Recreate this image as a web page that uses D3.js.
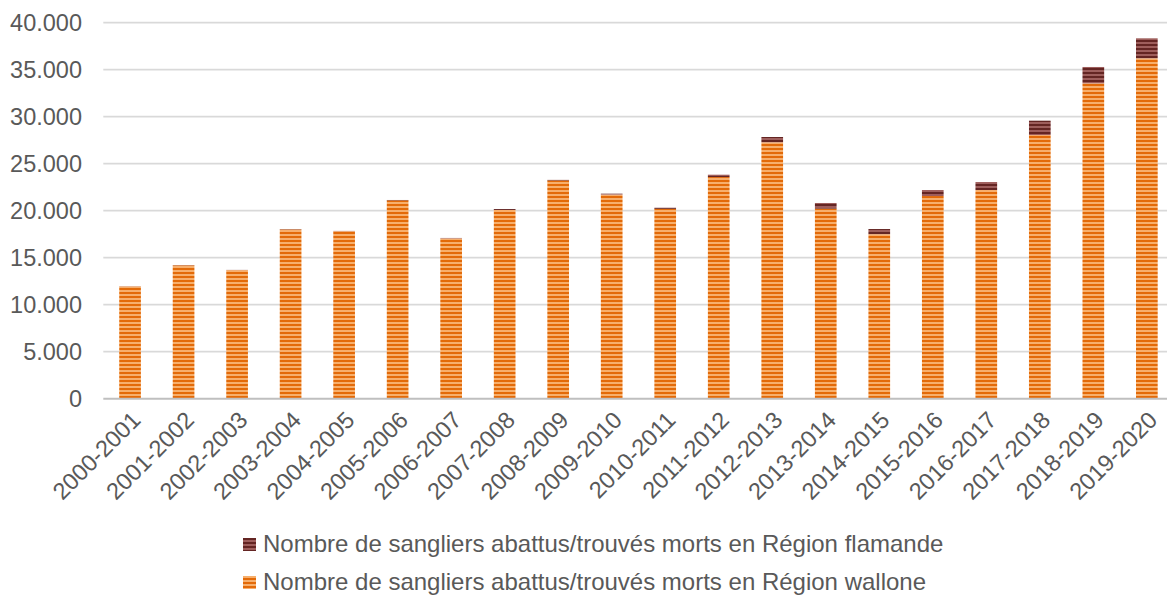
<!DOCTYPE html>
<html>
<head>
<meta charset="utf-8">
<script src="https://cdn.jsdelivr.net/npm/d3@7"></script>
<style>
  html, body { margin: 0; padding: 0; background: #fff; }
  svg { display: block; font-family: "Liberation Sans", Arial, sans-serif; }
</style>
</head>
<body>
<script>
// Sangliers abattus/trouvés morts par saison - stacked columns

const seasons = [
  "2000-2001", "2001-2002", "2002-2003", "2003-2004", "2004-2005",
  "2005-2006", "2006-2007", "2007-2008", "2008-2009", "2009-2010",
  "2010-2011", "2011-2012", "2012-2013", "2013-2014", "2014-2015",
  "2015-2016", "2016-2017", "2017-2018", "2018-2019", "2019-2020"
];
const wallone = [
  11950, 14180, 13680, 18000, 17820, 21100, 17050, 20080, 23220, 21710,
  20200, 23580, 27280, 20220, 17500, 21560, 22200, 28050, 33550, 36210
];
const flamande = [
  20, 20, 20, 30, 30, 40, 50, 100, 60, 100,
  120, 250, 560, 600, 550, 640, 850, 1525, 1740, 2130
];
const yTicks = [0, 5000, 10000, 15000, 20000, 25000, 30000, 35000, 40000];
const seriesNames = [
  "Nombre de sangliers abattus/trouvés morts en Région flamande",
  "Nombre de sangliers abattus/trouvés morts en Région wallone"
];

const W = 1167, H = 595;
const plot = { left: 103.3, right: 1173.6, top: 22.7, bottom: 398.7 };
const textColor = "#595959";
const fontSize = "23.5px";

const svg = d3.select("body").append("svg").attr("width", W).attr("height", H);

// striped fills (narrow horizontal pattern)
const defs = svg.append("defs");
function stripes(id, dark, light) {
  const p = defs.append("pattern")
    .attr("id", id)
    .attr("patternUnits", "userSpaceOnUse")
    .attr("width", 8)
    .attr("height", 4);
  p.append("rect").attr("width", 8).attr("height", 4).attr("fill", light);
  p.append("rect").attr("width", 8).attr("height", 2).attr("fill", dark);
}
stripes("pat-wal", "#E36A08", "#F7AF6C");
stripes("pat-fla", "#642523", "#9E5E5C");

const x = d3.scaleBand()
  .domain(seasons)
  .range([plot.left, plot.right])
  .paddingInner(0.595)
  .paddingOuter(0.2975);

const y = d3.scaleLinear().domain([0, 40000]).range([plot.bottom, plot.top]);

const fmt = d3.formatLocale({ decimal: ",", thousands: ".", grouping: [3], currency: ["", "€"] }).format(",");

// gridlines
svg.append("g")
  .selectAll("line")
  .data(yTicks.filter((d) => d > 0))
  .enter()
  .append("line")
  .attr("x1", plot.left)
  .attr("x2", plot.right)
  .attr("y1", (d) => y(d))
  .attr("y2", (d) => y(d))
  .attr("stroke", "#D9D9D9")
  .attr("stroke-width", 1.7);

// y labels
svg.append("g")
  .selectAll("text")
  .data(yTicks)
  .enter()
  .append("text")
  .attr("x", 82)
  .attr("y", (d) => y(d))
  .attr("dy", "0.35em")
  .attr("text-anchor", "end")
  .attr("font-size", fontSize)
  .attr("fill", textColor)
  .text((d) => fmt(d));

const data = seasons.map((s, i) => ({ s, w: wallone[i], f: flamande[i] }));

svg.append("g")
  .selectAll("rect")
  .data(data)
  .enter()
  .append("rect")
  .attr("x", (d) => x(d.s))
  .attr("width", x.bandwidth())
  .attr("y", (d) => y(d.w))
  .attr("height", (d) => y(0) - y(d.w))
  .attr("fill", "url(#pat-wal)");

svg.append("g")
  .selectAll("rect")
  .data(data)
  .enter()
  .append("rect")
  .attr("x", (d) => x(d.s))
  .attr("width", x.bandwidth())
  .attr("y", (d) => y(d.w + d.f))
  .attr("height", (d) => y(d.w) - y(d.w + d.f))
  .attr("fill", "url(#pat-fla)");

// x axis line
svg.append("line")
  .attr("x1", plot.left)
  .attr("x2", plot.right)
  .attr("y1", y(0))
  .attr("y2", y(0))
  .attr("stroke", "#BFBFBF")
  .attr("stroke-width", 2);

// x labels
svg.append("g")
  .selectAll("text")
  .data(seasons)
  .enter()
  .append("text")
  .attr("transform", (d) => `translate(${x(d) + x.bandwidth() / 2 + 6},${y(0) + 17}) rotate(-45)`)
  .attr("dy", "0.35em")
  .attr("text-anchor", "end")
  .attr("font-size", fontSize)
  .attr("fill", textColor)
  .text((d) => d);

// legend
const legend = svg.append("g").attr("transform", "translate(243,538)");
const legendFills = ["url(#pat-fla)", "url(#pat-wal)"];
seriesNames.forEach((name, i) => {
  legend.append("rect")
    .attr("y", i * 38)
    .attr("width", 13)
    .attr("height", 13)
    .attr("fill", legendFills[i]);
  legend.append("text")
    .attr("x", 20)
    .attr("y", i * 38 + 13.5)
    .attr("font-size", "24px")
    .attr("fill", textColor)
    .text(name);
});
</script>
</body>
</html>
